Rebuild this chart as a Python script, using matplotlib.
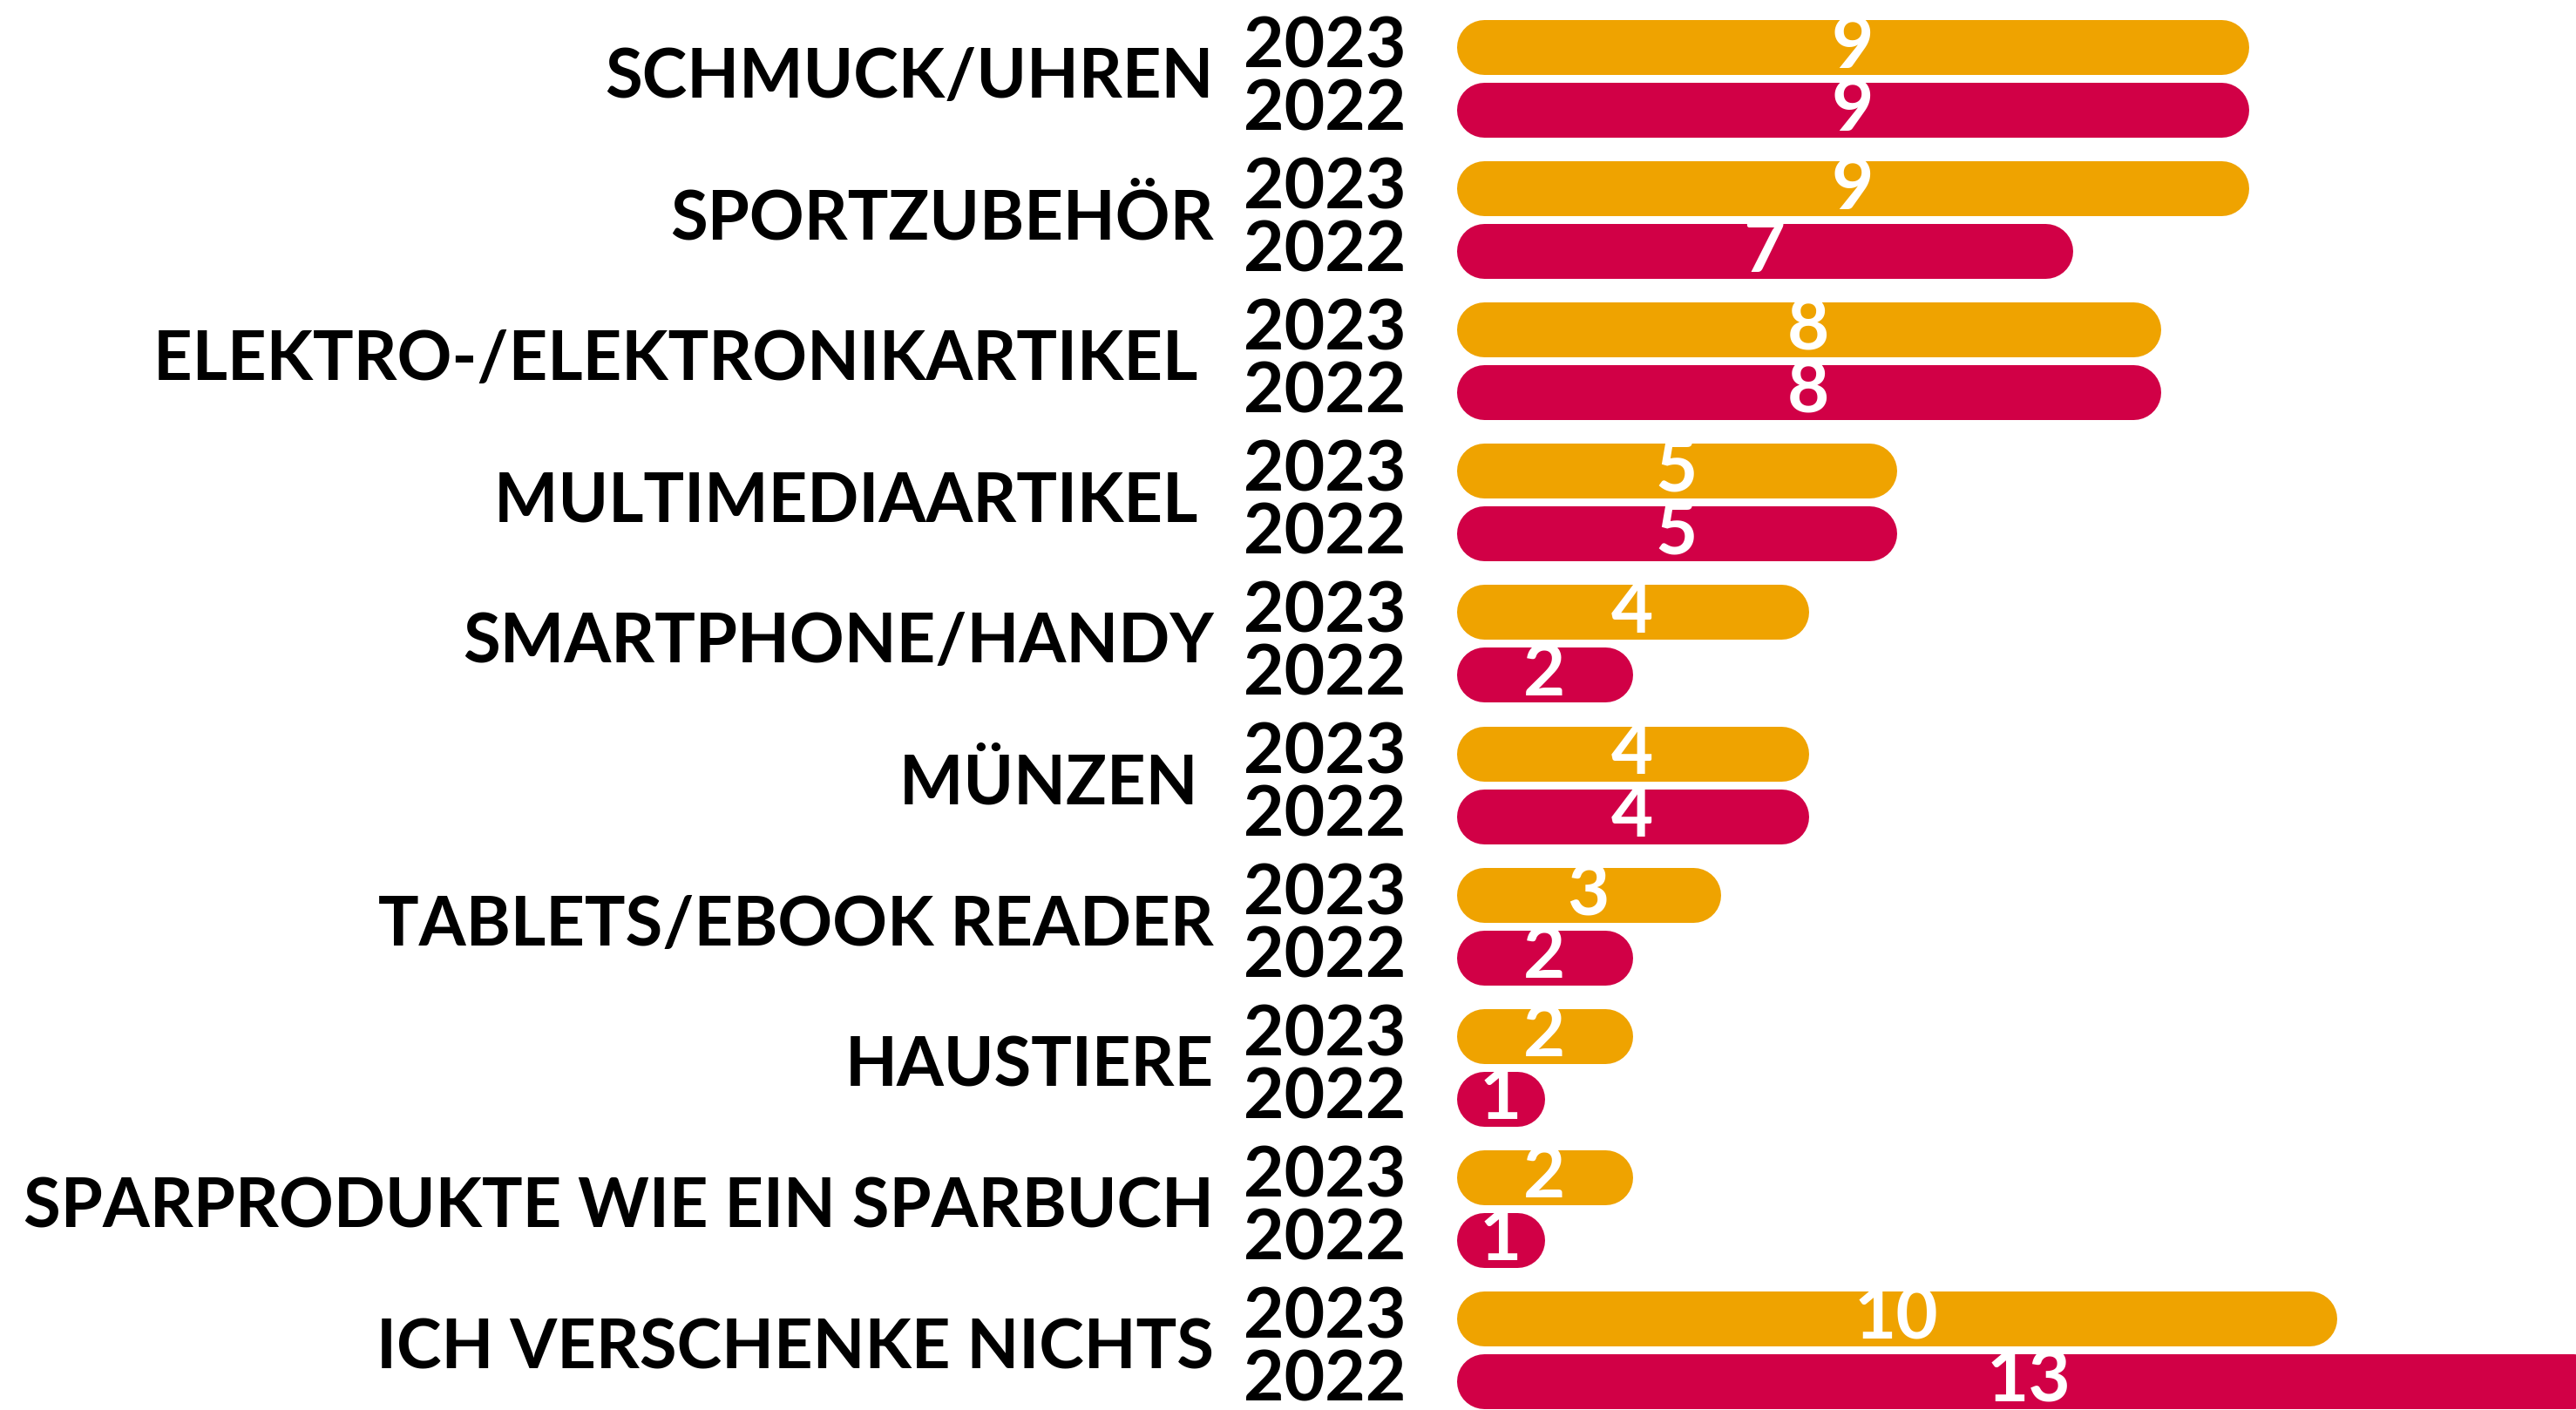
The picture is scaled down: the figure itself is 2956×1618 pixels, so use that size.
import matplotlib
matplotlib.use("Agg")
import matplotlib.pyplot as plt

# 数据
categories = [
    "SCHMUCK/UHREN",
    "SPORTZUBEHÖR",
    "ELEKTRO-/ELEKTRONIKARTIKEL ",
    "MULTIMEDIAARTIKEL ",
    "SMARTPHONE/HANDY",
    "MÜNZEN ",
    "TABLETS/EBOOK READER",
    "HAUSTIERE",
    "SPARPRODUKTE WIE EIN SPARBUCH",
    "ICH VERSCHENKE NICHTS",
]
years = ["2023", "2022"]
values_2023 = [9, 9, 8, 5, 4, 4, 3, 2, 2, 10]
values_2022 = [9, 7, 8, 5, 2, 4, 2, 1, 1, 13]

colors = {"2023": "#EFA300", "2022": "#D10046"}

plt.rcParams["font.family"] = ["Lato", "DejaVu Sans"]

W, H, DPI = 2956, 1618, 100
fig = plt.figure(figsize=(W / DPI, H / DPI), dpi=DPI)
ax = fig.add_axes([0, 0, 1, 1])

# 像素换算
px_per_unit = 101.0
bar_start_px = 1671
row_px = 162.1
first_row_px = 90
ax.set_xlim(-bar_start_px / px_per_unit, (W - bar_start_px) / px_per_unit)
ax.set_ylim((H - first_row_px) / row_px, -first_row_px / row_px)
ax.axis("off")

bar_h_px = 63
offset = 36 / row_px
lw_pt = bar_h_px * 72 / DPI
r = (bar_h_px / 2) / px_per_unit

cat_x = -(bar_start_px - 1393) / px_per_unit
year_x = -(bar_start_px - 1613) / px_per_unit

for i, cat in enumerate(categories):
    ax.text(cat_x, i, cat, ha="right", va="center",
            fontsize=56, fontweight="bold", color="black")
    for year, vals, dy in ((years[0], values_2023, -offset), (years[1], values_2022, offset)):
        v = vals[i]
        y = i + dy
        # 圆角条形（粗线 + 圆头）
        ax.plot([r, v - r], [y, y], color=colors[year], lw=lw_pt,
                solid_capstyle="round")
        ax.text(year_x, y, year, ha="right", va="center",
                fontsize=58, fontweight="bold", color="black")
        ax.text(v / 2, y, str(v), ha="center", va="center",
                fontsize=60, fontweight="bold", color="white")

fig.savefig("out.png", dpi=DPI, facecolor="white")
